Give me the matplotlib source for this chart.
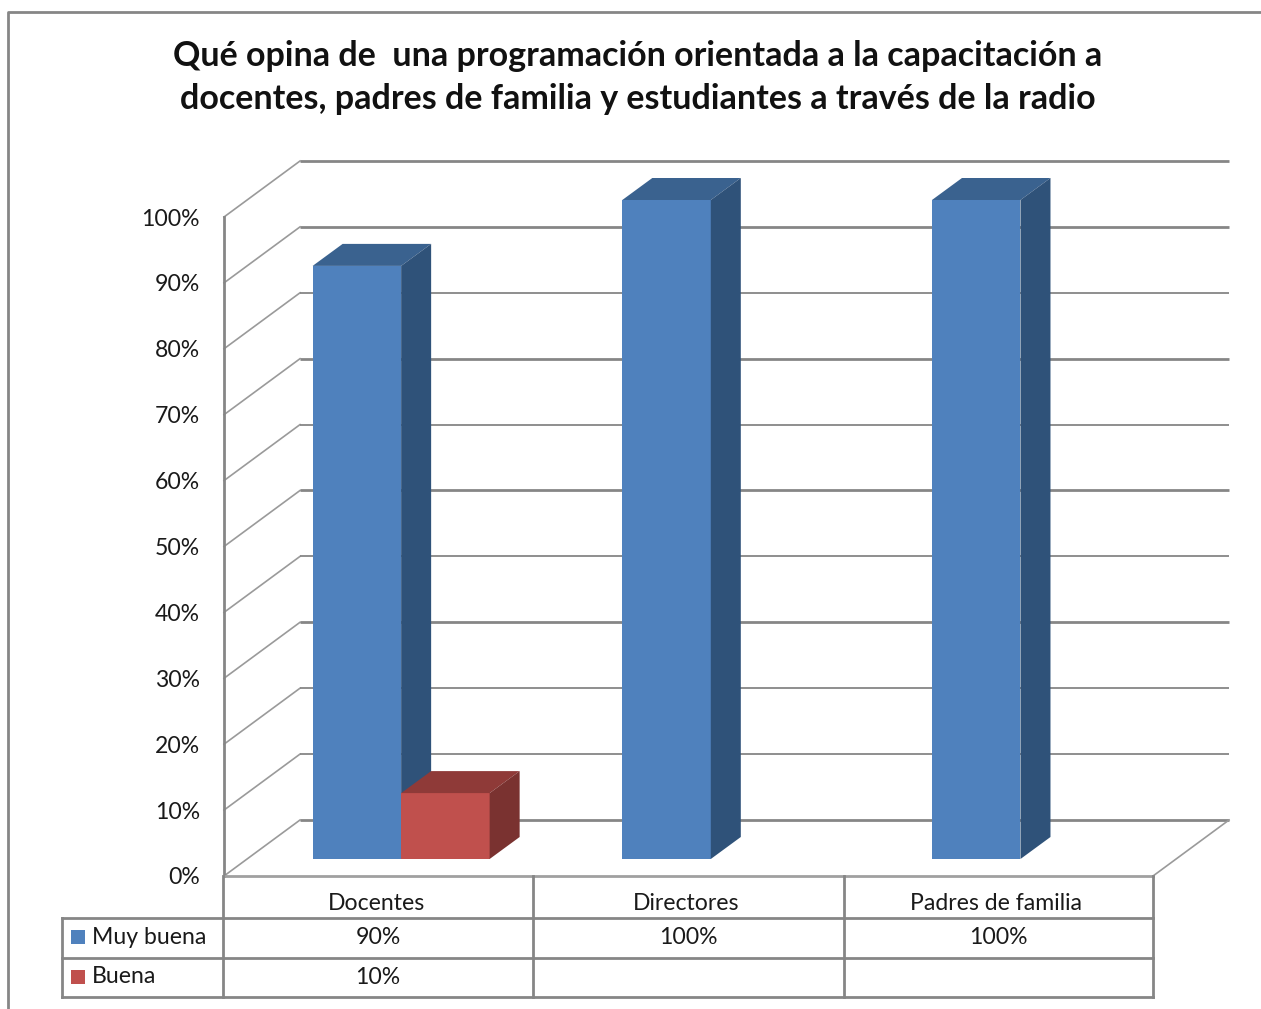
import matplotlib
matplotlib.use("Agg")
import matplotlib.pyplot as plt
from matplotlib.patches import Polygon, Rectangle

categories = ["Docentes", "Directores", "Padres de familia"]
series_names = ["Muy buena", "Buena"]
muy_buena = [90, 100, 100]
buena = [10, None, None]
y_ticks = list(range(0, 101, 10))
title_lines = ["Qué opina de  una programación orientada a la capacitación a",
               "docentes, padres de familia y estudiantes a través de la radio"]

W, H = 1261, 1009
plt.rcParams['font.family'] = ['Lato', 'DejaVu Sans']
GRID = "#868686"
TXT = "#1a1a1a"
FRONT = ["#4f81bd", "#c0504d"]
TOP = ["#3a628f", "#8f3a38"]
SIDE = ["#2f5279", "#7a3230"]
FS = 16.6

fig = plt.figure(figsize=(W / 100, H / 100), dpi=100, facecolor="white")

# pixel overlay for frame and table
px = fig.add_axes([0, 0, 1, 1], zorder=3)
px.set_xlim(0, W); px.set_ylim(H, 0); px.axis("off"); px.patch.set_alpha(0)

# plot axes: bar plane, x in category units, y in percent
X0, UX, Y0, Y100 = 246.3, 309.67, 859.0, 200.0
ax = fig.add_axes([X0 / W, 1 - Y0 / H, 3 * UX / W, (Y0 - Y100) / H], zorder=2)
ax.set_xlim(0, 3); ax.set_ylim(0, 100); ax.axis("off")
UY = (Y0 - Y100) / 100
fx, fy = -22.3 / UX, -17 / UY     # front edge of the floor relative to bar plane
bx, by = 53.7 / UX, 39 / UY       # back wall relative to bar plane
dx, dy = 30 / UX, 22 / UY         # bar depth
bar_w = 88.5 / UX
grid_widths = [2.0, 1.3, 1.3, 2.0, 1.3, 2.0, 1.3, 2.0, 1.3, 2.0, 2.0]

# walls
for v, lw in zip(y_ticks, grid_widths):
    ax.plot([fx, bx], [v + fy, v + by], color="#9a9a9a", lw=1.2, clip_on=False, zorder=1)
    ax.plot([bx, 3 + bx], [v + by, v + by], color=GRID, lw=lw, clip_on=False, zorder=1,
            solid_capstyle="butt")
    px.text(200, Y0 + 19 - v * UY, f"{v}%", ha="right", va="center", fontsize=FS, color=TXT)
ax.plot([3 + fx, 3 + bx], [fy, by], color="#9a9a9a", lw=1.2, clip_on=False, zorder=1)
ax.plot([fx, fx], [fy, 100 + fy], color=GRID, lw=2, clip_on=False, zorder=1)
ax.plot([fx, 3 + fx], [fy, fy], color="#a0a0a0", lw=2, clip_on=False, zorder=1)

# bars
for s, values in enumerate([muy_buena, buena]):
    for c, v in enumerate(values):
        if v is None:
            continue
        x = c + 0.5 + (s - 1) * bar_w
        ax.bar(x, v, width=bar_w, align="edge", color=FRONT[s], zorder=3 + s, clip_on=False)
        ax.add_patch(Polygon([(x, v), (x + dx, v + dy), (x + bar_w + dx, v + dy), (x + bar_w, v)],
                             closed=True, fc=TOP[s], ec="none", zorder=3 + s, clip_on=False))
        ax.add_patch(Polygon([(x + bar_w, 0), (x + bar_w + dx, dy), (x + bar_w + dx, v + dy), (x + bar_w, v)],
                             closed=True, fc=SIDE[s], ec="none", zorder=3 + s, clip_on=False))

# chart frame
px.plot([8, 8, W], [H, 12, 12], color=GRID, lw=2, clip_on=False)

# title
for line, y in zip(title_lines, [56, 99]):
    px.text(638, y, line, ha="center", va="center", fontsize=24.5, fontweight="bold", color="#111111")

# data table
cols = [223, 533, 844, 1153]
rows = [876, 918, 958, 997]
left = 62
for xv in cols:
    px.plot([xv, xv], [rows[0], rows[3]], color=GRID, lw=2, solid_capstyle="projecting")
px.plot([left, left], [rows[1], rows[3]], color=GRID, lw=2, solid_capstyle="projecting")
for yv in rows[1:]:
    px.plot([left, cols[-1]], [yv, yv], color=GRID, lw=2, solid_capstyle="projecting")

for c, name in enumerate(categories):
    px.text((cols[c] + cols[c + 1]) / 2 - 2, 903, name, ha="center", va="center", fontsize=FS, color=TXT)
for r, (name, values) in enumerate(zip(series_names, [muy_buena, buena])):
    yc = (rows[r + 1] + rows[r + 2]) / 2
    px.add_patch(Rectangle((71, yc - 7 - 1), 14, 14, fc=FRONT[r], ec="none"))
    px.text(92, yc - 1, name, ha="left", va="center", fontsize=FS, color=TXT)
    for c, v in enumerate(values):
        if v is not None:
            px.text((cols[c] + cols[c + 1]) / 2, yc, f"{v}%", ha="center", va="center", fontsize=FS, color=TXT)

fig.savefig("out.png", dpi=100, facecolor="white")
